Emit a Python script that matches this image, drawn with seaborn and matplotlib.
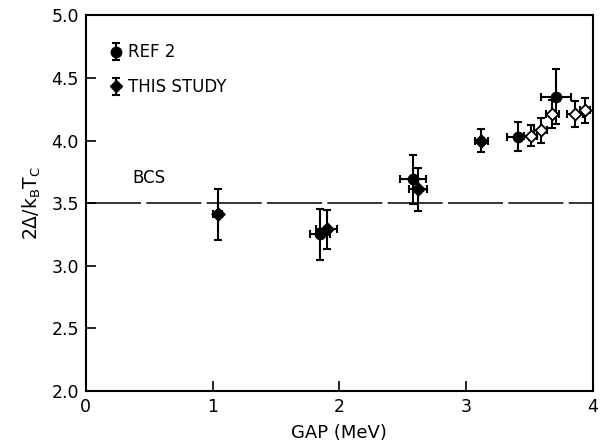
import numpy as np
import pandas as pd
import matplotlib
matplotlib.use("Agg")
import matplotlib.pyplot as plt
import seaborn as sns

# Gap energy (MeV) and reduced gap ratio 2Δ/kBTc
gap_ref2 = [1.85, 2.58, 3.41, 3.71]
ratio_ref2 = [3.25, 3.69, 4.03, 4.35]
ratio_err_ref2 = [0.205, 0.195, 0.115, 0.22]
gap_err_ref2 = [0.08, 0.105, 0.085, 0.12]

gap_study = [1.04, 1.90, 2.62, 3.12]
ratio_study = [3.41, 3.29, 3.61, 4.00]
ratio_err_study = [0.20, 0.155, 0.17, 0.095]
gap_err_study = [0.035, 0.08, 0.07, 0.05]

gap_open = [3.51, 3.59, 3.68, 3.86, 3.94]
ratio_open = [4.04, 4.08, 4.21, 4.21, 4.24]
ratio_err_open = [0.085, 0.10, 0.11, 0.105, 0.10]
gap_err_open = [0.05, 0.05, 0.05, 0.06, 0.04]

bcs_value = 3.5
x_ticks = [0, 1, 2, 3, 4]
y_ticks = [2.0, 2.5, 3.0, 3.5, 4.0, 4.5, 5.0]

sns.set_style("ticks", {"text.color": "black", "axes.labelcolor": "black",
                        "xtick.color": "black", "ytick.color": "black",
                        "axes.edgecolor": "black"})
plt.rcParams["font.family"] = ["DejaVu Sans"]
plt.rcParams["mathtext.fontset"] = "dejavusans"

fig = plt.figure(figsize=(6.0, 4.48), dpi=100)
ax = fig.add_axes([0.143, 0.127, 0.845, 0.839])

df = pd.concat([
    pd.DataFrame({"gap": gap_ref2, "ratio": ratio_ref2, "set": "ref2"}),
    pd.DataFrame({"gap": gap_study, "ratio": ratio_study, "set": "study"}),
    pd.DataFrame({"gap": gap_open, "ratio": ratio_open, "set": "open"}),
], ignore_index=True)

eb = dict(fmt="none", ecolor="black", elinewidth=1.5, capsize=3, capthick=1.5, zorder=2)
ax.errorbar(gap_ref2, ratio_ref2, yerr=ratio_err_ref2, xerr=gap_err_ref2, **eb)
ax.errorbar(gap_study, ratio_study, yerr=ratio_err_study, xerr=gap_err_study, **eb)
ax.errorbar(gap_open, ratio_open, yerr=ratio_err_open, xerr=gap_err_open, **eb)

sns.scatterplot(data=df[df["set"] == "ref2"], x="gap", y="ratio", marker="o",
                s=55, color="black", edgecolor="black", linewidth=1, ax=ax, zorder=3)
sns.scatterplot(data=df[df["set"] == "study"], x="gap", y="ratio", marker="D",
                s=44, color="black", edgecolor="black", linewidth=1, ax=ax, zorder=3)
sns.scatterplot(data=df[df["set"] == "open"], x="gap", y="ratio", marker="D",
                s=36, color="white", edgecolor="black", linewidth=1.3, ax=ax, zorder=3)

# BCS weak-coupling limit
ax.axhline(bcs_value, color="black", lw=1.1, dashes=(36, 3.5), zorder=1)
ax.text(0.37, bcs_value + 0.2, "BCS", fontsize=12, ha="left", va="center")

# legend handles: vertical error bar with marker
h1 = ax.errorbar([np.nan], [np.nan], yerr=[0.1], fmt="o", color="black", ms=7.5,
                 elinewidth=1.5, capsize=3, capthick=1.5)
h2 = ax.errorbar([np.nan], [np.nan], yerr=[0.1], fmt="D", color="black", ms=6.5,
                 elinewidth=1.5, capsize=3, capthick=1.5)
leg = ax.legend([h1, h2], ["REF 2", "THIS STUDY"], loc="upper left",
                bbox_to_anchor=(0.02, 0.965), frameon=False, fontsize=12,
                handlelength=0.6, handletextpad=0.4, labelspacing=1.0)

ax.set_xlim(0, 4)
ax.set_ylim(2.0, 5.0)
ax.set_xticks(x_ticks)
ax.set_xticklabels([str(t) for t in x_ticks])
ax.set_yticks(y_ticks)
ax.set_yticklabels([f"{t:.1f}" for t in y_ticks])
ax.tick_params(direction="in", length=7, width=1.2, labelsize=12.5, pad=5,
               colors="black")
for sp in ax.spines.values():
    sp.set_linewidth(1.5)
    sp.set_color("black")
    sp.set_visible(True)

ax.set_xlabel("GAP (MeV)", fontsize=13, labelpad=6, color="black")
ax.set_ylabel(r"2$\Delta$/k$_\mathrm{B}$T$_\mathrm{C}$", fontsize=13.5, labelpad=6,
              color="black")

fig.savefig("out.png", dpi=100)
